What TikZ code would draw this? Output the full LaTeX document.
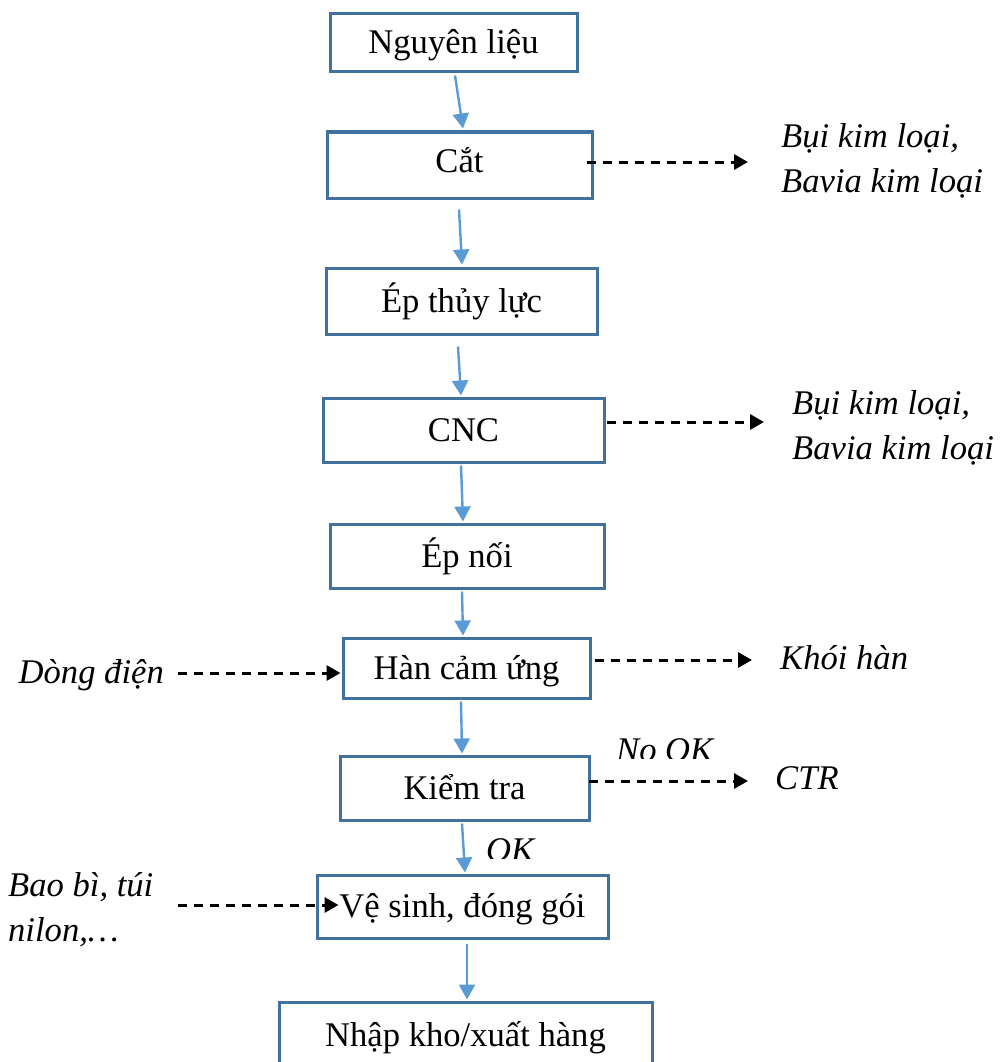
\documentclass[tikz,border=0pt]{standalone}
\usepackage{fontspec}
\setmainfont{Liberation Serif}
\usetikzlibrary{arrows.meta,calc}
\definecolor{boxline}{HTML}{41719C}
\definecolor{flowblue}{HTML}{5B9BD5}
\begin{document}
\begin{tikzpicture}[x=1pt,y=-1pt,
  stepbox/.style={draw=boxline,line width=3pt,fill=white,inner sep=0pt,
    text height=25pt,text depth=3pt,
    font=\fontsize{34.6}{42}\selectfont},
  flow/.style={flowblue,line width=2.4pt,-{Triangle[length=15pt,width=16pt]}},
  side/.style={black,line width=3pt,dash pattern=on 9pt off 7pt,
    -{Triangle[length=14pt,width=15pt]}},
  note/.style={font=\fontsize{34.6}{45}\selectfont\itshape,inner sep=0pt,align=left}
]
\clip (0,0) rectangle (999,1062);

% process steps
\node[stepbox,minimum width=247pt,minimum height=58pt] (n1) at (453.5,43) {Nguyên liệu};
\node[stepbox,minimum width=265pt,minimum height=66pt,text depth=10pt] (n2) at (459.5,165) {Cắt};
\node[stepbox,minimum width=271pt,minimum height=66pt] (n3) at (461.5,301) {Ép thủy lực};
\node[stepbox,minimum width=281pt,minimum height=64pt] (n4) at (463.5,430) {CNC};
\node[stepbox,minimum width=274pt,minimum height=64pt] (n5) at (467,556) {Ép nối};
\node[stepbox,minimum width=247pt,minimum height=60pt] (n6) at (466.5,668) {Hàn cảm ứng};
\node[stepbox,minimum width=249pt,minimum height=64pt] (n7) at (464.5,788) {Kiểm tra};
\node[stepbox,minimum width=291pt,minimum height=63pt] (n8) at (462.5,906.5) {Vệ sinh, đóng gói};
\node[stepbox,minimum width=373pt,minimum height=66pt] (n9) at (465.5,1035) {Nhập kho/xuất hàng};

% main flow
\draw[flow] ([shift={(1.5,2)}]n1.south) -- ([shift={(3.5,-2)}]n2.north);
\draw[flow] ([shift={(-0.5,10)}]n2.south) -- ([shift={(0.5,-2)}]n3.north);
\draw[flow] ([shift={(-3.5,11)}]n3.south) -- ([shift={(-2.5,-1)}]n4.north);
\draw[flow] ([shift={(-2.5,2)}]n4.south) -- ([shift={(-4,-1)}]n5.north);
\draw[flow] ([shift={(-5,2)}]n5.south) -- ([shift={(-3.5,-1)}]n6.north);
\draw[flow] ([shift={(-5.5,2)}]n6.south) -- ([shift={(-2.5,-1)}]n7.north);
\draw[flow] ([shift={(-2.5,2)}]n7.south) -- ([shift={(2.5,-1)}]n8.north);
\draw[flow] ([shift={(4.5,4.5)}]n8.south) -- ([shift={(1.5,-1)}]n9.north);

% side inputs and outputs
\coordinate (o2) at (748,162);
\coordinate (o4) at (764,422);
\coordinate (o6) at (752,660);
\coordinate (o7) at (748,781);
\coordinate (i6) at (178,673);
\coordinate (i8) at (178,905);

\draw[side] ([shift={(-7,-3)}]n2.east) -- (o2);
\draw[side] ([shift={(1,-8)}]n4.east) -- (o4);
\draw[side] ([shift={(3,-8)}]n6.east) -- (o6);
\draw[side] ([shift={(-2,-7)}]n7.east) -- (o7);
\draw[side] (i6) -- ([shift={(-1,5)}]n6.west);
\draw[side] (i8) -- ([shift={(23,-1.5)}]n8.west);

\node[note,anchor=west] (t2) at (781,161) {Bụi kim loại,\\Bavia kim loại};
\node[note,anchor=west] (t4) at (792,428) {Bụi kim loại,\\Bavia kim loại};
\node[note,anchor=west] (t6) at (780,658) {Khói hàn};
\node[note,anchor=west] (t7) at (775,778) {CTR};
\node[note,anchor=east] (t6in) at (164,675) {Dòng điện};
\node[note,anchor=west] (t8in) at (8,910) {Bao bì, túi\\nilon,…};

% labels cut off by the neighbouring shapes
\begin{scope}
  \clip (600,700) rectangle (760,758);
  \node[note,anchor=base west] (nok) at (616,761) {No OK};
\end{scope}
\begin{scope}
  \clip (470,830) rectangle (560,858);
  \node[note,anchor=base west] (ok) at (486,861) {OK};
\end{scope}
\end{tikzpicture}
\end{document}
